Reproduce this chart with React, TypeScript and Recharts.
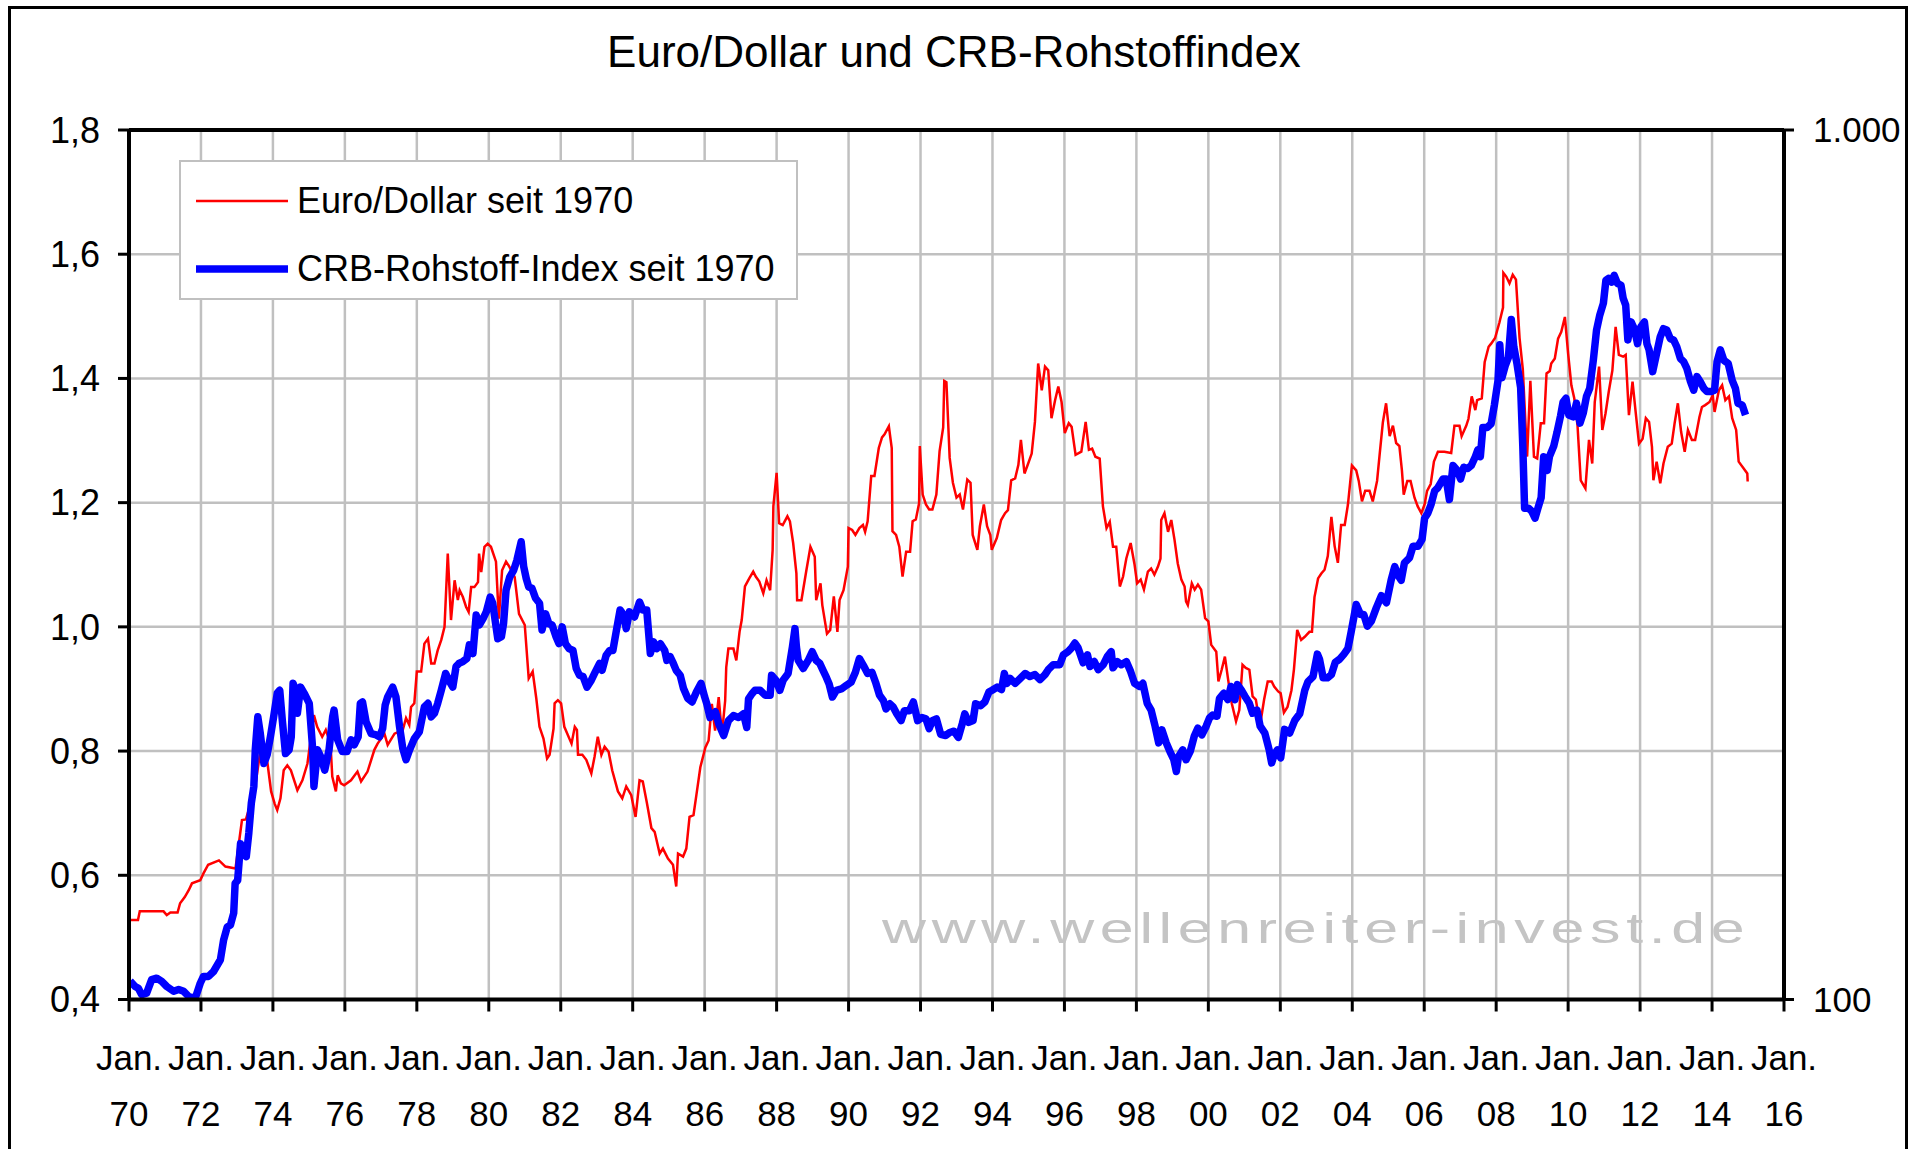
import { LineChart, Line, XAxis, YAxis, CartesianGrid, Legend, ReferenceLine } from 'recharts'

// Euro/Dollar (left axis), [year, value]
const euroDollar: [number, number][] = [
  [1970.0, 0.528], [1970.25, 0.528], [1970.3, 0.542], [1970.96, 0.542], [1971.05, 0.536], [1971.15, 0.54], [1971.35, 0.54],
  [1971.42, 0.555], [1971.55, 0.565], [1971.66, 0.576], [1971.75, 0.587], [1971.98, 0.592], [1972.07, 0.603], [1972.2, 0.617],
  [1972.5, 0.624], [1972.68, 0.614], [1972.96, 0.611], [1973.14, 0.689], [1973.25, 0.69], [1973.38, 0.716], [1973.5, 0.74],
  [1973.65, 0.8], [1973.75, 0.81], [1973.85, 0.78], [1973.95, 0.735], [1974.05, 0.715], [1974.12, 0.705], [1974.21, 0.724],
  [1974.3, 0.769], [1974.4, 0.777], [1974.5, 0.769], [1974.68, 0.737], [1974.82, 0.753], [1974.96, 0.78], [1975.14, 0.858],
  [1975.23, 0.839], [1975.37, 0.823], [1975.47, 0.834], [1975.6, 0.812], [1975.65, 0.759], [1975.75, 0.735], [1975.8, 0.761],
  [1975.89, 0.748], [1975.98, 0.745], [1976.17, 0.753], [1976.35, 0.767], [1976.45, 0.751], [1976.63, 0.767], [1976.82, 0.802],
  [1976.91, 0.812], [1977.1, 0.828], [1977.19, 0.81], [1977.38, 0.828], [1977.61, 0.834], [1977.7, 0.853], [1977.79, 0.842],
  [1977.84, 0.871], [1977.93, 0.877], [1978.0, 0.928], [1978.12, 0.928], [1978.21, 0.973], [1978.31, 0.981], [1978.4, 0.941],
  [1978.49, 0.941], [1978.58, 0.962], [1978.68, 0.979], [1978.77, 1.0], [1978.86, 1.118], [1978.95, 1.011], [1979.05, 1.075],
  [1979.14, 1.043], [1979.19, 1.059], [1979.28, 1.048], [1979.37, 1.032], [1979.44, 1.024], [1979.51, 1.064], [1979.6, 1.064],
  [1979.7, 1.072], [1979.73, 1.118], [1979.79, 1.088], [1979.88, 1.129], [1979.97, 1.134], [1980.06, 1.129], [1980.2, 1.105],
  [1980.28, 1.013], [1980.37, 1.091], [1980.48, 1.105], [1980.57, 1.097], [1980.72, 1.08], [1980.84, 1.021], [1981.0, 1.003],
  [1981.11, 0.917], [1981.22, 0.928], [1981.32, 0.885], [1981.41, 0.839], [1981.52, 0.82], [1981.62, 0.788], [1981.69, 0.794],
  [1981.8, 0.836], [1981.83, 0.877], [1981.92, 0.882], [1982.01, 0.877], [1982.1, 0.839], [1982.3, 0.812], [1982.39, 0.839],
  [1982.45, 0.834], [1982.48, 0.794], [1982.6, 0.794], [1982.71, 0.786], [1982.85, 0.764], [1982.94, 0.791], [1983.03, 0.823],
  [1983.13, 0.794], [1983.22, 0.807], [1983.33, 0.799], [1983.43, 0.769], [1983.59, 0.735], [1983.71, 0.724], [1983.82, 0.743],
  [1983.96, 0.729], [1984.08, 0.694], [1984.19, 0.753], [1984.28, 0.751], [1984.39, 0.718], [1984.52, 0.676], [1984.61, 0.67],
  [1984.75, 0.635], [1984.84, 0.643], [1984.98, 0.627], [1985.12, 0.617], [1985.21, 0.582], [1985.26, 0.635], [1985.4, 0.63],
  [1985.49, 0.643], [1985.58, 0.694], [1985.69, 0.697], [1985.77, 0.729], [1985.88, 0.774], [1986.02, 0.806], [1986.11, 0.817],
  [1986.2, 0.876], [1986.29, 0.833], [1986.39, 0.887], [1986.48, 0.827], [1986.57, 0.881], [1986.6, 0.935], [1986.66, 0.965],
  [1986.8, 0.965], [1986.88, 0.946], [1986.97, 0.992], [1987.03, 1.011], [1987.12, 1.065], [1987.24, 1.078], [1987.35, 1.089],
  [1987.42, 1.081], [1987.52, 1.073], [1987.63, 1.054], [1987.72, 1.075], [1987.82, 1.059], [1987.89, 1.124], [1987.91, 1.194],
  [1988.0, 1.248], [1988.07, 1.167], [1988.17, 1.164], [1988.3, 1.178], [1988.37, 1.17], [1988.46, 1.135], [1988.55, 1.086],
  [1988.57, 1.043], [1988.69, 1.043], [1988.83, 1.092], [1988.94, 1.129], [1989.06, 1.113], [1989.1, 1.043], [1989.22, 1.07],
  [1989.27, 1.035], [1989.4, 0.989], [1989.49, 0.995], [1989.59, 1.049], [1989.69, 0.992], [1989.75, 1.043], [1989.86, 1.059],
  [1989.98, 1.097], [1990.0, 1.159], [1990.1, 1.156], [1990.19, 1.148], [1990.3, 1.159], [1990.4, 1.164], [1990.46, 1.153],
  [1990.53, 1.17], [1990.63, 1.243], [1990.72, 1.243], [1990.84, 1.288], [1990.93, 1.305], [1991.0, 1.31], [1991.12, 1.323],
  [1991.2, 1.288], [1991.22, 1.154], [1991.32, 1.148], [1991.41, 1.129], [1991.5, 1.081], [1991.6, 1.121], [1991.71, 1.121],
  [1991.78, 1.17], [1991.87, 1.173], [1991.96, 1.199], [1991.98, 1.291], [1992.06, 1.213], [1992.15, 1.197], [1992.24, 1.189],
  [1992.33, 1.189], [1992.44, 1.213], [1992.53, 1.283], [1992.63, 1.321], [1992.66, 1.396], [1992.72, 1.394], [1992.81, 1.272],
  [1992.9, 1.232], [1993.0, 1.208], [1993.09, 1.213], [1993.18, 1.189], [1993.3, 1.237], [1993.39, 1.232], [1993.45, 1.148],
  [1993.58, 1.124], [1993.65, 1.162], [1993.76, 1.197], [1993.85, 1.162], [1993.94, 1.148], [1993.98, 1.124], [1994.12, 1.143],
  [1994.24, 1.172], [1994.35, 1.183], [1994.43, 1.188], [1994.52, 1.236], [1994.63, 1.239], [1994.72, 1.261], [1994.79, 1.301],
  [1994.89, 1.247], [1994.98, 1.261], [1995.09, 1.279], [1995.18, 1.33], [1995.27, 1.424], [1995.37, 1.381], [1995.46, 1.419],
  [1995.55, 1.413], [1995.64, 1.336], [1995.74, 1.365], [1995.83, 1.387], [1995.92, 1.362], [1996.01, 1.312], [1996.12, 1.328],
  [1996.2, 1.322], [1996.31, 1.277], [1996.47, 1.282], [1996.59, 1.33], [1996.68, 1.285], [1996.77, 1.287], [1996.86, 1.274],
  [1996.98, 1.271], [1997.07, 1.194], [1997.17, 1.159], [1997.26, 1.169], [1997.35, 1.129], [1997.44, 1.129], [1997.54, 1.065],
  [1997.63, 1.081], [1997.72, 1.11], [1997.84, 1.135], [1997.95, 1.1], [1998.02, 1.07], [1998.12, 1.076], [1998.21, 1.06],
  [1998.32, 1.089], [1998.41, 1.094], [1998.5, 1.084], [1998.6, 1.097], [1998.67, 1.11], [1998.69, 1.172], [1998.78, 1.183],
  [1998.88, 1.153], [1998.97, 1.172], [1999.06, 1.14], [1999.15, 1.102], [1999.25, 1.076], [1999.34, 1.065], [1999.38, 1.041],
  [1999.43, 1.035], [1999.54, 1.07], [1999.62, 1.06], [1999.71, 1.068], [1999.8, 1.06], [1999.91, 1.014], [2000.0, 1.009],
  [2000.08, 0.971], [2000.22, 0.96], [2000.28, 0.912], [2000.37, 0.931], [2000.46, 0.952], [2000.55, 0.915], [2000.65, 0.877],
  [2000.77, 0.848], [2000.86, 0.866], [2000.95, 0.939], [2001.04, 0.934], [2001.14, 0.931], [2001.23, 0.888], [2001.32, 0.883],
  [2001.39, 0.858], [2001.46, 0.85], [2001.55, 0.883], [2001.65, 0.912], [2001.76, 0.912], [2001.83, 0.904], [2001.94, 0.896],
  [2002.01, 0.893], [2002.1, 0.862], [2002.2, 0.871], [2002.31, 0.898], [2002.38, 0.932], [2002.47, 0.995], [2002.58, 0.979],
  [2002.68, 0.984], [2002.81, 0.992], [2002.88, 0.992], [2002.95, 1.048], [2003.05, 1.078], [2003.14, 1.086], [2003.23, 1.092],
  [2003.32, 1.114], [2003.42, 1.177], [2003.51, 1.13], [2003.6, 1.103], [2003.69, 1.164], [2003.79, 1.164], [2003.88, 1.197],
  [2003.99, 1.26], [2004.11, 1.252], [2004.18, 1.235], [2004.27, 1.202], [2004.36, 1.219], [2004.48, 1.219], [2004.57, 1.202],
  [2004.69, 1.235], [2004.76, 1.277], [2004.85, 1.329], [2004.94, 1.36], [2005.04, 1.307], [2005.13, 1.324], [2005.22, 1.296],
  [2005.31, 1.291], [2005.38, 1.252], [2005.43, 1.213], [2005.53, 1.235], [2005.62, 1.235], [2005.73, 1.208], [2005.82, 1.194],
  [2005.92, 1.183], [2006.01, 1.197], [2006.08, 1.219], [2006.18, 1.23], [2006.27, 1.266], [2006.38, 1.282], [2006.56, 1.282],
  [2006.75, 1.28], [2006.84, 1.324], [2006.98, 1.324], [2007.04, 1.307], [2007.17, 1.324], [2007.23, 1.335], [2007.32, 1.371],
  [2007.42, 1.349], [2007.47, 1.365], [2007.6, 1.368], [2007.68, 1.426], [2007.79, 1.451], [2007.86, 1.456], [2007.97, 1.465],
  [2008.09, 1.49], [2008.19, 1.514], [2008.2, 1.57], [2008.28, 1.564], [2008.37, 1.553], [2008.46, 1.567], [2008.55, 1.559],
  [2008.65, 1.465], [2008.74, 1.415], [2008.86, 1.274], [2008.95, 1.396], [2009.05, 1.274], [2009.14, 1.271], [2009.24, 1.328],
  [2009.33, 1.328], [2009.4, 1.408], [2009.49, 1.412], [2009.53, 1.424], [2009.63, 1.432], [2009.72, 1.464], [2009.81, 1.475],
  [2009.91, 1.499], [2010.0, 1.44], [2010.09, 1.389], [2010.17, 1.368], [2010.26, 1.325], [2010.35, 1.236], [2010.48, 1.223],
  [2010.58, 1.301], [2010.67, 1.263], [2010.74, 1.362], [2010.86, 1.419], [2010.95, 1.317], [2011.04, 1.344], [2011.13, 1.379],
  [2011.23, 1.413], [2011.32, 1.483], [2011.41, 1.438], [2011.53, 1.435], [2011.6, 1.438], [2011.69, 1.341], [2011.79, 1.395],
  [2011.88, 1.344], [2011.97, 1.295], [2012.07, 1.303], [2012.16, 1.336], [2012.25, 1.33], [2012.33, 1.29], [2012.37, 1.236],
  [2012.46, 1.266], [2012.56, 1.231], [2012.65, 1.263], [2012.77, 1.29], [2012.88, 1.295], [2012.96, 1.328], [2013.05, 1.36],
  [2013.14, 1.314], [2013.24, 1.282], [2013.33, 1.317], [2013.44, 1.301], [2013.53, 1.301], [2013.65, 1.338], [2013.72, 1.354],
  [2013.81, 1.357], [2013.93, 1.362], [2014.02, 1.373], [2014.07, 1.346], [2014.19, 1.381], [2014.28, 1.389], [2014.37, 1.365],
  [2014.47, 1.371], [2014.56, 1.336], [2014.67, 1.317], [2014.74, 1.266], [2014.88, 1.255], [2014.98, 1.247], [2014.99, 1.234],
]

// CRB commodity index (right axis, log 100..1000), [year, index]
const crbIndex: [number, number][] = [
  [1970.03, 105], [1970.17, 103.5], [1970.26, 103], [1970.35, 101.3], [1970.49, 101.7], [1970.63, 105.4], [1970.77, 105.8],
  [1970.91, 104.9], [1971.05, 103.5], [1971.24, 102.2], [1971.38, 102.7], [1971.52, 102.2], [1971.66, 100.8], [1971.84, 100.3],
  [1971.98, 104.4], [1972.07, 106.3], [1972.21, 106.3], [1972.35, 107.7], [1972.54, 111.1], [1972.63, 117.1], [1972.73, 121.2],
  [1972.82, 121.8], [1972.91, 125.7], [1972.95, 136], [1973.02, 137.1], [1973.1, 151.1], [1973.19, 147.2], [1973.26, 146],
  [1973.33, 155.4], [1973.4, 168.2], [1973.47, 175.8], [1973.51, 193.7], [1973.58, 211.4], [1973.65, 202.2], [1973.75, 186.8],
  [1973.84, 191.2], [1973.93, 200.5], [1974.02, 211.4], [1974.12, 225], [1974.19, 226.8], [1974.26, 209.7], [1974.35, 191.8],
  [1974.45, 193.7], [1974.51, 200.5], [1974.56, 231], [1974.63, 226.8], [1974.68, 213.4], [1974.77, 228.7], [1974.87, 225],
  [1975.01, 219.1], [1975.1, 195.3], [1975.14, 175.8], [1975.24, 193.7], [1975.33, 190.2], [1975.44, 183.5], [1975.56, 193.7],
  [1975.66, 211.4], [1975.7, 215.2], [1975.8, 198.9], [1975.93, 192.8], [1976.06, 192.8], [1976.17, 198.9], [1976.26, 196.3],
  [1976.37, 200.5], [1976.43, 219.1], [1976.49, 219.9], [1976.59, 208.6], [1976.73, 202.2], [1976.87, 201.5], [1976.96, 200.5],
  [1977.05, 204.9], [1977.12, 218.1], [1977.19, 222.8], [1977.33, 228.7], [1977.42, 222.8], [1977.52, 205.9], [1977.61, 194.4],
  [1977.7, 188.7], [1977.8, 193.7], [1977.93, 199.5], [1978.07, 203.2], [1978.21, 217], [1978.31, 219.1], [1978.4, 211.4],
  [1978.49, 213.4], [1978.58, 219.1], [1978.68, 226.8], [1978.8, 237.1], [1978.91, 232.1], [1979.0, 228.7], [1979.09, 241.5],
  [1979.17, 243.5], [1979.28, 244.7], [1979.39, 246.7], [1979.46, 255.8], [1979.56, 250], [1979.65, 276.8], [1979.74, 269.6],
  [1979.84, 274.1], [1979.93, 279.1], [1980.04, 290.3], [1980.11, 285.6], [1980.19, 270.5], [1980.25, 260], [1980.35, 261.3],
  [1980.41, 270.5], [1980.48, 295.6], [1980.58, 306], [1980.69, 311.6], [1980.78, 319.9], [1980.9, 336.1], [1980.97, 314.7],
  [1981.04, 305], [1981.11, 298.1], [1981.2, 297.1], [1981.3, 289.4], [1981.41, 285.6], [1981.48, 266.1], [1981.58, 277.7],
  [1981.67, 270.5], [1981.76, 269.6], [1981.87, 261.3], [1981.95, 256.6], [1982.04, 268.3], [1982.13, 256.6], [1982.23, 253.3],
  [1982.34, 252], [1982.43, 240.3], [1982.52, 236], [1982.62, 235.2], [1982.73, 228.7], [1982.85, 232.9], [1982.94, 237.1],
  [1983.08, 243.5], [1983.15, 239.1], [1983.26, 248.7], [1983.36, 252], [1983.45, 252], [1983.54, 264.8], [1983.65, 280.5],
  [1983.75, 276.8], [1983.82, 267], [1983.91, 279.1], [1984.05, 275.4], [1984.19, 286.5], [1984.28, 280.5], [1984.39, 280.5],
  [1984.49, 250], [1984.58, 257.9], [1984.67, 253.3], [1984.77, 256.6], [1984.89, 252], [1984.95, 245.5], [1985.04, 247.9],
  [1985.13, 243.5], [1985.21, 239.1], [1985.32, 236], [1985.41, 228], [1985.53, 222], [1985.65, 219.9], [1985.77, 225.7],
  [1985.9, 231], [1986.0, 222.8], [1986.06, 218.8], [1986.15, 211], [1986.3, 214.2], [1986.39, 207.6], [1986.53, 201.2],
  [1986.66, 209.3], [1986.8, 212.1], [1986.94, 211], [1987.08, 213.1], [1987.17, 205.5], [1987.22, 221.7], [1987.31, 224.6],
  [1987.4, 226.8], [1987.54, 226.8], [1987.68, 223.9], [1987.82, 223.9], [1987.86, 236], [1987.98, 232.9], [1988.09, 226.8],
  [1988.18, 232.9], [1988.32, 237.1], [1988.44, 254.5], [1988.51, 267], [1988.55, 254.5], [1988.6, 245.5], [1988.74, 240.3],
  [1988.88, 245.5], [1988.99, 251.2], [1989.1, 245.5], [1989.2, 243.5], [1989.29, 239.1], [1989.38, 234.8], [1989.46, 230.6],
  [1989.55, 222.8], [1989.66, 226.8], [1989.8, 227.6], [1989.94, 229.8], [1990.07, 231.7], [1990.19, 237.9], [1990.3, 246.7],
  [1990.41, 242.3], [1990.53, 237.1], [1990.65, 237.9], [1990.75, 231.7], [1990.86, 223.9], [1990.97, 220.6], [1991.04, 215.9],
  [1991.15, 218.8], [1991.24, 217], [1991.34, 213.1], [1991.46, 209.3], [1991.55, 214.8], [1991.69, 214.8], [1991.8, 219.9],
  [1991.92, 209.3], [1992.04, 211], [1992.15, 210.3], [1992.24, 204.9], [1992.33, 209.3], [1992.44, 210.3], [1992.56, 201.8],
  [1992.7, 201.2], [1992.81, 202.8], [1992.93, 203.5], [1993.05, 200.2], [1993.16, 207.6], [1993.23, 213.1], [1993.34, 208.3],
  [1993.46, 209.3], [1993.53, 218.8], [1993.67, 217.7], [1993.79, 219.9], [1993.9, 225.7], [1993.99, 226.8], [1994.13, 228.7],
  [1994.25, 227.2], [1994.33, 237.1], [1994.4, 231], [1994.49, 234], [1994.63, 231], [1994.77, 234], [1994.91, 237.1],
  [1995.04, 235.2], [1995.18, 236.4], [1995.32, 233.3], [1995.46, 236.4], [1995.55, 239.5], [1995.69, 242.7], [1995.87, 242.7],
  [1995.97, 249.1], [1996.1, 251.2], [1996.2, 253.7], [1996.29, 257], [1996.38, 253.7], [1996.52, 243.9], [1996.64, 249.1],
  [1996.71, 241.5], [1996.83, 244.7], [1996.94, 239.5], [1997.08, 242.7], [1997.19, 247.9], [1997.3, 251.2], [1997.35, 240.7],
  [1997.47, 244.7], [1997.58, 242.7], [1997.72, 244.7], [1997.84, 238.3], [1997.95, 231], [1998.09, 229.1], [1998.18, 231],
  [1998.3, 219.1], [1998.41, 215.2], [1998.52, 206.2], [1998.62, 197.3], [1998.71, 204.2], [1998.83, 197.3], [1998.95, 192.1],
  [1999.04, 188.7], [1999.11, 182.9], [1999.17, 190.2], [1999.29, 193.7], [1999.38, 188.7], [1999.5, 193.1], [1999.61, 200.9],
  [1999.71, 205.2], [1999.82, 201.5], [1999.94, 206.2], [2000.03, 210.7], [2000.12, 212.4], [2000.24, 211.7], [2000.31, 222],
  [2000.43, 225], [2000.54, 221.3], [2000.63, 229.1], [2000.74, 221.3], [2000.81, 230.2], [2000.91, 227.2], [2001.02, 223.1],
  [2001.14, 219.1], [2001.23, 213.4], [2001.35, 215.2], [2001.44, 206.2], [2001.57, 202.5], [2001.69, 193.7], [2001.76, 187.1],
  [2001.83, 191.2], [2001.92, 193.7], [2002.01, 189.6], [2002.12, 204.5], [2002.26, 202.5], [2002.4, 209.3], [2002.54, 213.1],
  [2002.68, 226.8], [2002.77, 232.1], [2002.91, 235.2], [2003.03, 249.6], [2003.09, 246.3], [2003.19, 234.4], [2003.31, 234.4],
  [2003.42, 236.4], [2003.53, 244.3], [2003.65, 246.3], [2003.77, 249.6], [2003.88, 253.3], [2003.97, 264.8], [2004.11, 284.6],
  [2004.23, 277.2], [2004.32, 277.2], [2004.42, 268.7], [2004.53, 272.3], [2004.67, 282.3], [2004.81, 291.3], [2004.95, 286],
  [2005.08, 303.5], [2005.18, 314.7], [2005.27, 307.5], [2005.36, 303.5], [2005.45, 317.8], [2005.59, 322], [2005.69, 332.2],
  [2005.83, 332.2], [2005.94, 338.3], [2006.01, 357.7], [2006.1, 362.5], [2006.19, 370.9], [2006.29, 384.6], [2006.38, 387.8],
  [2006.52, 396.8], [2006.61, 396.8], [2006.7, 375.8], [2006.8, 411.4], [2006.92, 406], [2007.01, 396.8], [2007.1, 409.4],
  [2007.21, 408], [2007.31, 411.4], [2007.42, 421], [2007.49, 428.7], [2007.56, 421], [2007.63, 454.9], [2007.75, 454.9],
  [2007.86, 459.4], [2007.95, 482.6], [2008.05, 514.6], [2008.1, 566.1], [2008.16, 518.8], [2008.25, 535.3], [2008.34, 547.7],
  [2008.42, 605.5], [2008.49, 563.3], [2008.58, 537.9], [2008.68, 505.3], [2008.74, 433], [2008.79, 367.3], [2008.9, 367.3],
  [2008.99, 364.3], [2009.08, 357.7], [2009.16, 367.3], [2009.25, 377.7], [2009.32, 421], [2009.42, 406], [2009.48, 421],
  [2009.6, 433], [2009.69, 448.9], [2009.79, 469.3], [2009.86, 486.6], [2009.94, 491.4], [2010.02, 470.1], [2010.14, 467.8],
  [2010.23, 485], [2010.33, 460.1], [2010.42, 472.4], [2010.51, 493.9], [2010.6, 504.5], [2010.7, 543.3], [2010.79, 588.9],
  [2010.88, 612.6], [2010.98, 632], [2011.05, 671.7], [2011.12, 675], [2011.21, 668.4], [2011.28, 680.6], [2011.37, 666.2],
  [2011.47, 662.8], [2011.53, 640.4], [2011.6, 628.9], [2011.66, 573.6], [2011.75, 601.6], [2011.84, 590.8], [2011.93, 567.9],
  [2012.02, 593.7], [2012.12, 601.6], [2012.19, 567.9], [2012.25, 558.7], [2012.35, 527.4], [2012.44, 548.6], [2012.56, 578.3],
  [2012.65, 590.8], [2012.74, 588.9], [2012.84, 575.5], [2012.93, 573.6], [2013.02, 563.3], [2013.12, 546], [2013.21, 541.5],
  [2013.3, 531.8], [2013.4, 513.7], [2013.49, 502], [2013.58, 520.5], [2013.67, 513.7], [2013.77, 504.5], [2013.86, 500.4],
  [2013.98, 500.4], [2014.07, 502], [2014.14, 541.5], [2014.23, 558.7], [2014.33, 543.3], [2014.45, 538.8], [2014.56, 515.4],
  [2014.65, 504.5], [2014.72, 485], [2014.84, 482.6], [2014.93, 470.1],
]

const yearTicks = [1970, 1972, 1974, 1976, 1978, 1980, 1982, 1984, 1986, 1988, 1990, 1992, 1994, 1996, 1998, 2000, 2002, 2004, 2006, 2008, 2010, 2012, 2014, 2016]
const leftTicks = [0.4, 0.6, 0.8, 1.0, 1.2, 1.4, 1.6, 1.8]
const rightTicks = [100, 1000]

const title = 'Euro/Dollar und CRB-Rohstoffindex'
const seriesNames = ['Euro/Dollar seit 1970', 'CRB-Rohstoff-Index seit 1970']
const watermark = 'www.wellenreiter-invest.de'

const FONT = '"Liberation Sans", Arial, sans-serif'
const W = 1911
const H = 1149
const PLOT_LEFT = 129
const PLOT_RIGHT = 1784
const PLOT_TOP = 130
const PLOT_BOTTOM = 999.5

const eurData = euroDollar.map(([t, v]) => ({ t, v }))
const crbData = crbIndex.map(([t, v]) => ({ t, v }))

function YearTick({ x, payload }: any) {
  const yy = String(payload.value % 100).padStart(2, '0')
  return (
    <g>
      <text x={x} y={PLOT_BOTTOM + 58} textAnchor="middle" dominantBaseline="central" fontSize={35} fontFamily={FONT} fill="#000">Jan.</text>
      <text x={x} y={PLOT_BOTTOM + 114} textAnchor="middle" dominantBaseline="central" fontSize={35} fontFamily={FONT} fill="#000">{yy}</text>
    </g>
  )
}

function LegendBox() {
  return (
    <div style={{ width: '100%', height: '100%', boxSizing: 'border-box', border: '2px solid #c0c0c0', background: '#fff', fontFamily: FONT, fontSize: 36, color: '#000', position: 'relative' }}>
      <svg width={100} height={140} style={{ position: 'absolute', left: 13, top: 0 }}>
        <line x1={2} x2={94} y1={39} y2={39} stroke="#ff0000" strokeWidth={2.5} />
        <line x1={2} x2={94} y1={107} y2={107} stroke="#0000ff" strokeWidth={7.5} />
      </svg>
      <div style={{ position: 'absolute', left: 116, top: 39, transform: 'translateY(-50%)', whiteSpace: 'nowrap', lineHeight: 1 }}>{seriesNames[0]}</div>
      <div style={{ position: 'absolute', left: 116, top: 107, transform: 'translateY(-50%)', whiteSpace: 'nowrap', lineHeight: 1 }}>{seriesNames[1]}</div>
    </div>
  )
}

export default function App() {
  return (
    <div style={{ position: 'absolute', left: 0, top: 0, width: W, height: H, background: '#fff', overflow: 'hidden', fontFamily: FONT }}>
      <div style={{ position: 'absolute', left: 7.5, top: 5.5, width: 1900, height: 1200, border: '3px solid #000', boxSizing: 'border-box' }} />
      <LineChart width={W} height={H} margin={{ top: PLOT_TOP, right: 0, bottom: 0, left: 0 }} style={{ position: 'absolute', left: 0, top: 0 }}>
        <CartesianGrid yAxisId="left" stroke="#c0c0c0" strokeWidth={2.5} />
        <XAxis
          dataKey="t"
          type="number"
          domain={[1970, 2016]}
          ticks={yearTicks}
          interval={0}
          allowDataOverflow
          height={H - PLOT_BOTTOM}
          axisLine={{ stroke: '#000', strokeWidth: 4 }}
          tickLine={{ stroke: '#000', strokeWidth: 3 }}
          tickSize={12}
          tick={<YearTick />}
        />
        <YAxis
          yAxisId="left"
          type="number"
          domain={[0.4, 1.8]}
          ticks={leftTicks}
          interval={0}
          allowDataOverflow
          width={PLOT_LEFT}
          axisLine={{ stroke: '#000', strokeWidth: 4 }}
          tickLine={{ stroke: '#000', strokeWidth: 3 }}
          tickSize={11}
          tickMargin={18}
          tick={{ fontSize: 36, fill: '#000', fontFamily: FONT }}
          tickFormatter={(v: number) => v.toFixed(1).replace('.', ',')}
        />
        <YAxis
          yAxisId="right"
          orientation="right"
          type="number"
          scale="log"
          domain={[100, 1000]}
          ticks={rightTicks}
          interval={0}
          allowDataOverflow
          width={W - PLOT_RIGHT}
          axisLine={{ stroke: '#000', strokeWidth: 4 }}
          tickLine={{ stroke: '#000', strokeWidth: 3 }}
          tickSize={10}
          tickMargin={19}
          tick={{ fontSize: 35, fill: '#000', fontFamily: FONT }}
          tickFormatter={(v: number) => (v >= 1000 ? '1.000' : String(v))}
        />
        <ReferenceLine yAxisId="left" y={1.8} stroke="#000" strokeWidth={4} />
        <Legend
          layout="horizontal"
          verticalAlign="middle"
          align="center"
          content={() => <LegendBox />}
          wrapperStyle={{ left: 179, top: 160, width: 619, height: 140 }}
        />
        <Line data={eurData} dataKey="v" yAxisId="left" type="linear" stroke="#ff0000" strokeWidth={2.5} dot={false} isAnimationActive={false} name={seriesNames[0]} />
        <Line data={crbData} dataKey="v" yAxisId="right" type="linear" stroke="#0000ff" strokeWidth={7.5} strokeLinejoin="round" dot={false} isAnimationActive={false} name={seriesNames[1]} />
      </LineChart>
      <svg width={W} height={H} style={{ position: 'absolute', left: 0, top: 0, pointerEvents: 'none' }}>
        <text x={954} y={67} textAnchor="middle" fontSize={44} fontFamily={FONT} fill="#000">{title}</text>
        <g transform="translate(882 943) scale(1.45 1)">
          <text x={0} y={0} textLength={595} lengthAdjust="spacing" fontSize={42} fontFamily={FONT} fill="#c4c4c4">{watermark}</text>
        </g>
      </svg>
    </div>
  )
}
